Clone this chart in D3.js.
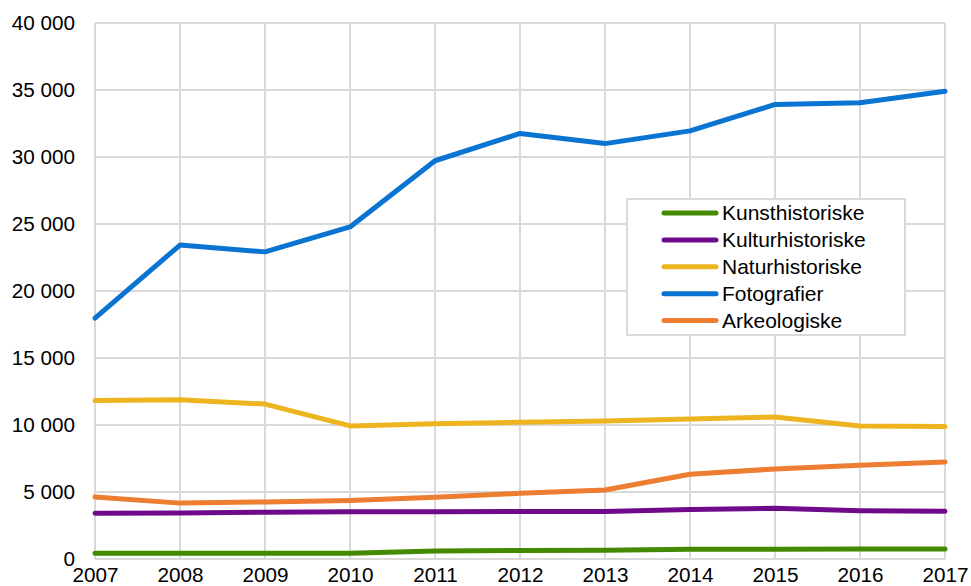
<!DOCTYPE html>
<html>
<head>
<meta charset="utf-8">
<script src="https://cdn.jsdelivr.net/npm/d3@7"></script>
<style>
  body { margin: 0; background: #fff; }
  svg { display: block; font-family: "Liberation Sans", Arial, sans-serif; }
</style>
</head>
<body>
<svg id="chart" width="971" height="586"></svg>
<script>
// years on the x axis
var years = [2007, 2008, 2009, 2010, 2011, 2012, 2013, 2014, 2015, 2016, 2017];

// series
var kunsthistoriske = [430, 430, 430, 430, 600, 640, 650, 720, 730, 740, 740];
var kulturhistoriske = [3420, 3440, 3490, 3520, 3530, 3540, 3540, 3700, 3780, 3610, 3560];
var naturhistoriske = [11820, 11880, 11560, 9930, 10100, 10200, 10300, 10450, 10600, 9930, 9880];
var fotografier = [17980, 23430, 22920, 24780, 29720, 31760, 31000, 31950, 33920, 34050, 34900];
var arkeologiske = [4620, 4170, 4260, 4360, 4600, 4900, 5150, 6330, 6720, 7000, 7240];

var seriesNames = ["Kunsthistoriske", "Kulturhistoriske", "Naturhistoriske", "Fotografier", "Arkeologiske"];
var seriesColors = ["#438a00", "#6f0a8b", "#edb420", "#0a74d2", "#ed7d31"];
var yTicks = [0, 5000, 10000, 15000, 20000, 25000, 30000, 35000, 40000];

var allSeries = [kunsthistoriske, kulturhistoriske, naturhistoriske, fotografier, arkeologiske];

var svg = d3.select("#chart");

var plot = { left: 95, right: 945, top: 23, bottom: 559 };

var x = d3.scaleLinear()
    .domain(d3.extent(years))
    .range([plot.left, plot.right]);

var y = d3.scaleLinear()
    .domain([0, 40000])
    .range([plot.bottom, plot.top]);

var fmt = function(d) {
    return d3.format(",")(d).replace(/,/g, " ");
};

// grid
var grid = svg.append("g").attr("class", "grid");

grid.selectAll("line.h")
    .data(yTicks)
    .enter()
    .append("line")
    .attr("class", "h")
    .attr("x1", plot.left)
    .attr("x2", plot.right)
    .attr("y1", function(d) { return y(d); })
    .attr("y2", function(d) { return y(d); })
    .attr("stroke", "#d9d9d9")
    .attr("stroke-width", 2);

grid.selectAll("line.v")
    .data(years)
    .enter()
    .append("line")
    .attr("class", "v")
    .attr("x1", function(d) { return x(d); })
    .attr("x2", function(d) { return x(d); })
    .attr("y1", plot.top)
    .attr("y2", plot.bottom)
    .attr("stroke", "#d9d9d9")
    .attr("stroke-width", 2);

// y axis labels
var yAxis = d3.axisLeft(y)
    .tickValues(yTicks)
    .tickFormat(fmt)
    .tickSize(0)
    .tickPadding(20);

svg.append("g")
    .attr("transform", "translate(" + plot.left + ",0)")
    .call(yAxis)
    .call(function(g) { g.select(".domain").remove(); })
    .selectAll("text")
    .attr("font-size", 20.7)
    .attr("fill", "#000")
    .attr("font-family", "Liberation Sans, Arial, sans-serif");

// x axis labels
var xAxis = d3.axisBottom(x)
    .tickValues(years)
    .tickFormat(d3.format("d"))
    .tickSize(0)
    .tickPadding(8);

svg.append("g")
    .attr("transform", "translate(0," + plot.bottom + ")")
    .call(xAxis)
    .call(function(g) { g.select(".domain").remove(); })
    .selectAll("text")
    .attr("font-size", 20.7)
    .attr("fill", "#000")
    .attr("font-family", "Liberation Sans, Arial, sans-serif");

// lines
var line = d3.line()
    .x(function(d, i) { return x(years[i]); })
    .y(function(d) { return y(d); });

svg.append("g")
    .selectAll("path")
    .data(allSeries)
    .enter()
    .append("path")
    .attr("d", line)
    .attr("fill", "none")
    .attr("stroke", function(d, i) { return seriesColors[i]; })
    .attr("stroke-width", 5)
    .attr("stroke-linejoin", "round")
    .attr("stroke-linecap", "round");

// legend
var legend = svg.append("g").attr("transform", "translate(627,199)");

legend.append("rect")
    .attr("width", 278)
    .attr("height", 136)
    .attr("fill", "#fff")
    .attr("stroke", "#d9d9d9")
    .attr("stroke-width", 2);

var items = legend.selectAll("g.item")
    .data(seriesNames)
    .enter()
    .append("g")
    .attr("class", "item")
    .attr("transform", function(d, i) { return "translate(0," + (14 + i * 26.9) + ")"; });

items.append("line")
    .attr("x1", 37)
    .attr("x2", 89)
    .attr("stroke", function(d, i) { return seriesColors[i]; })
    .attr("stroke-width", 5)
    .attr("stroke-linecap", "round");

items.append("text")
    .attr("x", 95)
    .attr("dy", "0.35em")
    .attr("font-size", 21)
    .attr("fill", "#000")
    .text(function(d) { return d; });
</script>
</body>
</html>
